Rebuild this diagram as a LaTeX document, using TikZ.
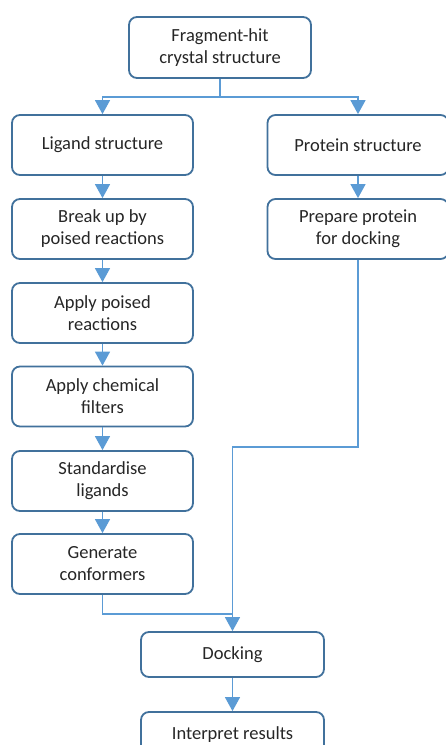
\documentclass[tikz,border=0pt]{standalone}
\usepackage{fontspec}
\setmainfont{Carlito}
\usetikzlibrary{arrows.meta}
\definecolor{boxline}{HTML}{41719C}
\definecolor{conn}{HTML}{5B9BD5}
\definecolor{txt}{HTML}{262626}
\begin{document}
\begin{tikzpicture}[x=1pt,y=-1pt,
  box/.style={draw=boxline,line width=1.8pt,rounded corners=8pt,fill=white,
    minimum width=181pt,minimum height=60pt,align=center,inner sep=2pt,
    font=\fontsize{18.5}{22}\selectfont,text=txt},
  sbox/.style={box,minimum width=183pt,minimum height=45pt},
  link/.style={draw=conn,line width=1.4pt},
  arr/.style={link,-{Triangle[width=15pt,length=14pt]}}]
\useasboundingbox (0,0) rectangle (445,745);
\node[box,minimum width=182pt,minimum height=61pt] (top) at (220,47.5) {Fragment-hit\\crystal structure};
\node[box] (lig) at (102.5,145) {Ligand structure};
\node[box] (prot) at (358,145) {Protein structure};
\node[box] (brk) at (102.5,229) {Break up by\\poised reactions};
\node[box] (prep) at (358,229) {Prepare protein\\for docking};
\node[box] (app) at (102.5,313) {Apply poised\\reactions};
\node[box] (filt) at (102.5,396.5) {Apply chemical\\filters};
\node[box] (std) at (102.5,481) {Standardise\\ligands};
\node[box] (gen) at (102.5,564) {Generate\\conformers};
\node[sbox] (dock) at (232.5,654.5) {Docking};
\node[sbox] (interp) at (232.5,734.5) {Interpret results};
\coordinate (split) at (220,97);
\coordinate (j1) at (232.5,447);
\coordinate (j2) at (232.5,614);
\draw[link] (top.south) -- (split);
\draw[arr] (split) -| (lig.north);
\draw[arr] (split) -| (prot.north);
\draw[arr] (lig) -- (brk);
\draw[arr] (brk) -- (app);
\draw[arr] (app) -- (filt);
\draw[arr] (filt) -- (std);
\draw[arr] (std) -- (gen);
\draw[arr] (prot) -- (prep);
\draw[arr] (prep.south) |- (j1) -- (dock.north);
\draw[link] (gen.south) |- (j2);
\draw[arr] (dock) -- (interp);
\end{tikzpicture}
\end{document}
